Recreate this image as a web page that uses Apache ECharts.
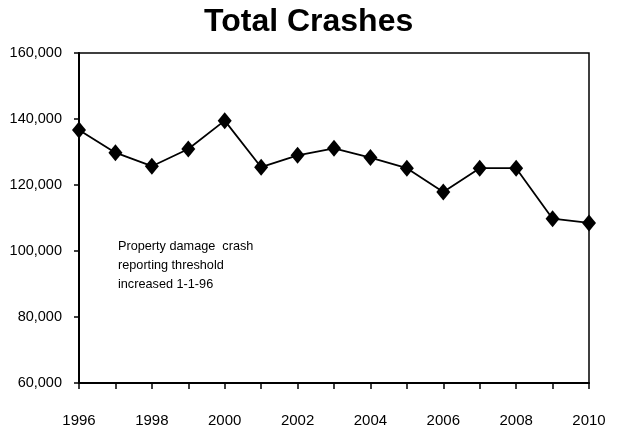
<!DOCTYPE html>
<html><head><meta charset="utf-8">
<script src="https://cdn.jsdelivr.net/npm/echarts@6/dist/echarts.min.js"></script>
<style>html,body{margin:0;padding:0;background:#fff}#c{width:624px;height:429px}</style>
</head><body><div id="c"></div>
<script>
const years = ['1996','1997','1998','1999','2000','2001','2002','2003','2004','2005','2006','2007','2008','2009','2010'];
const totalCrashes = [136700, 129800, 125700, 130900, 139500, 125400, 129000, 131100, 128300, 125100, 117900, 125100, 125100, 109800, 108500];
const yTicks = { min: 60000, max: 160000, interval: 20000 };
const titleText = 'Total Crashes';
const noteText = 'Property damage  crash\nreporting threshold\nincreased 1-1-96';

const sans = '"Liberation Sans", Arial';
const chart = echarts.init(document.getElementById('c'), null, {renderer:'canvas'});
chart.setOption({
  animation: false,
  backgroundColor: '#fff',
  title: { text: titleText, left: 199, top: 1,
    textStyle: { fontFamily: sans, fontSize: 32, fontWeight: 'bold', color: '#000' } },
  grid: { left: 79, right: 35, top: 53, bottom: 46, outerBoundsMode: 'none', containLabel: false,
    show: true, borderColor: '#000', borderWidth: 1.5, backgroundColor: 'transparent' },
  xAxis: { type: 'category', data: years, boundaryGap: false,
    axisLine: { lineStyle: { color: '#000', width: 2 } },
    axisTick: { show: true, interval: 0, length: 6, lineStyle: { color: '#000', width: 1.5 } },
    axisLabel: { interval: 1, margin: 30, color: '#000', fontFamily: sans, fontSize: 15 },
    splitLine: { show: false } },
  yAxis: { type: 'value', min: yTicks.min, max: yTicks.max, interval: yTicks.interval,
    axisLine: { show: true, lineStyle: { color: '#000', width: 2 } },
    axisTick: { show: true, length: 5, lineStyle: { color: '#000', width: 1.5 } },
    axisLabel: { margin: 17, color: '#000', fontFamily: sans, fontSize: 14.5, padding: [4, 0, 0, 0],
      formatter: v => v.toLocaleString('en-US') },
    splitLine: { show: false } },
  series: [{ type: 'line', data: totalCrashes, symbol: 'diamond', symbolSize: [14, 17],
    lineStyle: { color: '#000', width: 1.8 }, itemStyle: { color: '#000' } }],
  graphic: [{ type: 'text', left: 118, top: 237,
    style: { text: noteText, fill: '#000', font: '12.7px ' + sans, lineHeight: 19 } }]
});
</script></body></html>
